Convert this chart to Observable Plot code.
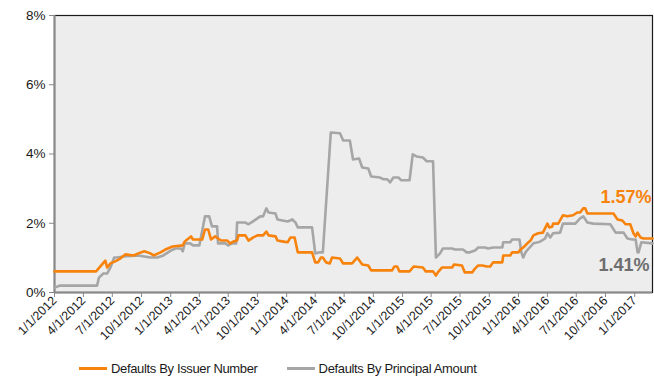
<!DOCTYPE html>
<html><head><meta charset="utf-8">
<script src="https://cdn.jsdelivr.net/npm/d3@7"></script>
<script src="https://cdn.jsdelivr.net/npm/@observablehq/plot@0.6"></script>
<style>
body{margin:0;background:#fff;font-family:"Liberation Sans",Arial,sans-serif;}
#legend{height:32px;display:flex;align-items:center;font-size:13px;letter-spacing:-0.35px;color:#1a1a1a;padding-left:79px;}
#legend .sw{display:inline-block;width:28px;height:3px;margin-right:4px;}
#legend .item{display:flex;align-items:center;margin-right:29px;}
</style></head><body><div id="chart"></div><div id="legend"></div>
<script>
const seriesNames = ["Defaults By Issuer Number", "Defaults By Principal Amount"];
const seriesColors = ["#f7830c", "#a6a6a6"];
const endLabels = ["1.57%", "1.41%"];
const endLabelColors = ["#f7830c", "#6e6e6e"];
const yTicks = [0, 2, 4, 6, 8];
const xDomain = ["2012-01-01", "2017-02-26"];

const issuerDates = ["2012-01-01","2012-05-11","2012-06-09","2012-06-15","2012-06-25","2012-07-10","2012-07-26","2012-08-11","2012-09-06","2012-09-21","2012-10-10","2012-10-29","2012-11-08","2012-11-30","2012-12-15","2013-01-07","2013-02-08","2013-02-14","2013-03-06","2013-03-12","2013-04-10","2013-04-19","2013-04-29","2013-05-08","2013-05-21","2013-05-30","2013-06-09","2013-06-28","2013-07-07","2013-07-17","2013-07-29","2013-08-02","2013-08-24","2013-09-03","2013-09-18","2013-10-01","2013-10-19","2013-10-29","2013-11-05","2013-11-27","2013-12-03","2013-12-22","2014-01-04","2014-01-13","2014-01-26","2014-02-05","2014-03-22","2014-04-01","2014-04-10","2014-04-19","2014-04-25","2014-05-05","2014-05-17","2014-05-24","2014-06-18","2014-06-28","2014-07-26","2014-08-11","2014-08-27","2014-09-15","2014-09-24","2014-11-29","2014-12-06","2014-12-15","2014-12-22","2015-01-23","2015-02-05","2015-03-06","2015-03-15","2015-04-07","2015-04-16","2015-04-22","2015-05-05","2015-06-06","2015-06-12","2015-07-07","2015-07-16","2015-08-08","2015-08-17","2015-08-27","2015-09-09","2015-09-24","2015-10-04","2015-10-13","2015-11-11","2015-11-14","2015-12-06","2015-12-12","2016-01-01","2016-01-07","2016-01-16","2016-01-29","2016-02-08","2016-02-17","2016-03-03","2016-03-18","2016-04-01","2016-04-07","2016-04-16","2016-04-19","2016-05-05","2016-05-20","2016-06-03","2016-06-21","2016-07-04","2016-07-13","2016-07-23","2016-07-29","2016-08-05","2016-10-26","2016-11-08","2016-11-23","2016-12-03","2016-12-18","2016-12-28","2017-01-04","2017-01-10","2017-01-19","2017-01-29","2017-02-26"];
const issuerValues = [0.61,0.61,0.92,0.72,0.84,0.90,0.98,1.10,1.07,1.13,1.19,1.13,1.07,1.16,1.24,1.33,1.36,1.47,1.62,1.53,1.53,1.82,1.82,1.53,1.62,1.56,1.50,1.50,1.42,1.47,1.50,1.65,1.65,1.50,1.59,1.65,1.65,1.76,1.65,1.62,1.50,1.47,1.45,1.59,1.59,1.16,1.16,0.87,0.87,1.01,1.01,0.87,0.84,1.01,0.98,0.84,0.84,1.01,0.81,0.78,0.64,0.64,0.75,0.75,0.61,0.61,0.75,0.72,0.61,0.61,0.49,0.58,0.72,0.72,0.81,0.78,0.58,0.58,0.69,0.78,0.78,0.75,0.75,0.87,0.87,1.07,1.07,1.16,1.16,1.24,1.30,1.42,1.50,1.65,1.71,1.73,1.99,1.88,1.90,1.99,1.99,2.23,2.20,2.23,2.31,2.31,2.43,2.43,2.28,2.28,2.11,2.08,1.97,1.97,1.71,1.62,1.73,1.59,1.56,1.56];

const principalDates = ["2012-01-01","2012-01-19","2012-05-14","2012-05-20","2012-06-03","2012-06-15","2012-06-25","2012-07-07","2012-07-16","2012-08-05","2012-09-21","2012-10-29","2012-11-20","2012-12-09","2013-01-01","2013-01-16","2013-02-02","2013-02-08","2013-02-14","2013-03-03","2013-03-12","2013-04-01","2013-04-19","2013-05-02","2013-05-11","2013-05-27","2013-05-30","2013-06-22","2013-07-01","2013-07-13","2013-07-26","2013-07-29","2013-08-24","2013-09-03","2013-10-01","2013-10-10","2013-10-19","2013-10-29","2013-11-05","2013-11-27","2013-12-03","2014-01-04","2014-01-19","2014-01-29","2014-02-05","2014-03-22","2014-04-01","2014-04-16","2014-04-25","2014-05-20","2014-06-18","2014-06-28","2014-07-19","2014-07-29","2014-08-17","2014-08-27","2014-09-15","2014-09-24","2014-10-22","2014-11-02","2014-11-14","2014-11-23","2014-12-03","2014-12-19","2014-12-28","2015-01-23","2015-02-02","2015-02-14","2015-03-06","2015-03-18","2015-04-07","2015-04-16","2015-04-29","2015-05-08","2015-06-06","2015-06-15","2015-07-10","2015-07-22","2015-08-01","2015-08-17","2015-08-27","2015-09-18","2015-09-28","2015-10-13","2015-11-11","2015-11-14","2015-12-06","2015-12-12","2016-01-04","2016-01-10","2016-01-16","2016-01-23","2016-02-02","2016-02-17","2016-03-03","2016-03-09","2016-03-25","2016-04-01","2016-04-10","2016-04-19","2016-05-11","2016-05-20","2016-06-28","2016-07-13","2016-07-23","2016-08-05","2016-08-24","2016-10-16","2016-11-02","2016-11-27","2016-12-09","2016-12-25","2017-01-04","2017-01-10","2017-01-13","2017-01-22","2017-02-26"];
const principalValues = [0.14,0.20,0.20,0.43,0.55,0.55,0.72,1.01,1.01,1.04,1.07,1.01,1.01,1.07,1.21,1.27,1.27,1.19,1.42,1.42,1.36,1.36,2.20,2.20,1.91,1.91,1.42,1.42,1.36,1.42,1.42,2.02,2.02,1.97,2.14,2.20,2.20,2.43,2.31,2.28,2.11,2.05,2.11,2.02,1.88,1.88,1.13,1.16,1.16,4.62,4.60,4.39,4.39,3.84,3.87,3.61,3.58,3.35,3.32,3.27,3.27,3.18,3.32,3.32,3.24,3.24,3.99,3.93,3.90,3.79,3.79,1.01,1.13,1.27,1.27,1.24,1.24,1.16,1.16,1.21,1.30,1.30,1.27,1.30,1.30,1.45,1.45,1.53,1.53,1.16,1.01,1.16,1.27,1.42,1.45,1.47,1.56,1.71,1.59,1.71,1.73,1.99,1.99,2.14,2.20,2.02,1.99,1.97,1.73,1.73,1.56,1.53,1.53,1.16,1.16,1.45,1.42];

const parse = d3.utcParse("%Y-%m-%d");
const issuer = issuerDates.map((d, i) => ({date: parse(d), value: issuerValues[i]}));
const principal = principalDates.map((d, i) => ({date: parse(d), value: principalValues[i]}));
const xTicks = d3.utcMonth.every(3).range(parse("2012-01-01"), parse("2017-01-02"));

const chart = Plot.plot({
  width: 654,
  height: 352,
  marginTop: 15,
  marginBottom: 60,
  marginLeft: 54,
  marginRight: 2,
  style: {fontFamily: "'Liberation Sans', Arial, sans-serif", color: "#1a1a1a", background: "#fff"},
  x: {type: "utc", domain: xDomain.map(parse)},
  y: {domain: [0, 8]},
  marks: [
    Plot.frame({fill: "#ededed", stroke: "#1a1a1a", strokeWidth: 1.2}),
    Plot.axisY({ticks: yTicks, tickFormat: d => d + "%", tickSize: 5, tickPadding: 4, fontSize: 13.5, stroke: "#888", label: null}),
    Plot.axisX({ticks: xTicks, tickFormat: d3.utcFormat("%-m/%-d/%Y"), tickRotate: -45, tickSize: 5, tickPadding: 1, fontSize: 12.5, stroke: "#888", label: null}),
    Plot.ruleX([parse(xDomain[0])], {stroke: "#888", strokeWidth: 2}),
    Plot.ruleY([0], {stroke: "#888", strokeWidth: 2}),
    Plot.line(principal, {x: "date", y: "value", stroke: seriesColors[1], strokeWidth: 2.6}),
    Plot.line(issuer, {x: "date", y: "value", stroke: seriesColors[0], strokeWidth: 2.6}),
    Plot.text([issuer[issuer.length - 1]], {x: "date", y: "value", text: () => endLabels[0], fill: endLabelColors[0], fontSize: 18, fontWeight: "bold", textAnchor: "end", dx: -1, dy: -41}),
    Plot.text([principal[principal.length - 1]], {x: "date", y: "value", text: () => endLabels[1], fill: endLabelColors[1], fontSize: 18, fontWeight: "bold", textAnchor: "end", dx: -3, dy: 22})
  ]
});
document.getElementById("chart").appendChild(chart);

const legend = document.getElementById("legend");
seriesNames.forEach((name, i) => {
  const item = document.createElement("span");
  item.className = "item";
  const sw = document.createElement("span");
  sw.className = "sw";
  sw.style.background = seriesColors[i];
  item.appendChild(sw);
  item.appendChild(document.createTextNode(name));
  legend.appendChild(item);
});
</script>
</body></html>
